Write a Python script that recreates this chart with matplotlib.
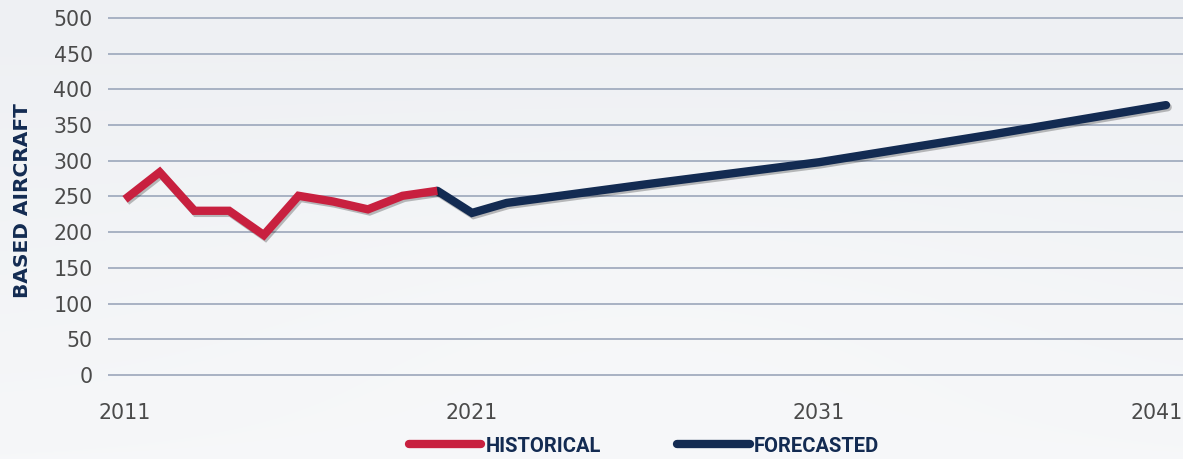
import numpy as np
import matplotlib
matplotlib.use("Agg")
import matplotlib.pyplot as plt
import matplotlib.patheffects as pe
import matplotlib.transforms as mtransforms
from matplotlib.lines import Line2D
from matplotlib import font_manager

# ---- data ----
hist_years = [2011, 2012, 2013, 2014, 2015, 2016, 2017, 2018, 2019, 2020]
hist_values = [246, 284, 230, 230, 196, 251, 243, 232, 251, 258]
fc_years = [2020, 2021, 2022, 2026, 2031, 2036, 2041]
fc_values = [258, 227, 241, 267, 298, 337, 378]
x_ticks = [2011, 2021, 2031, 2041]
y_ticks = [0, 50, 100, 150, 200, 250, 300, 350, 400, 450, 500]
y_label = "BASED AIRCRAFT"
legend_labels = ["HISTORICAL", "FORECASTED"]

RED = "#C8203F"
NAVY = "#132B52"
GRID = "#A8B2C3"
TICK = "#4A4A4A"

W, H = 1183, 459
fig = plt.figure(figsize=(W / 100, H / 100), dpi=100)

# background (soft cloudy gradient)
bg = fig.add_axes([0, 0, 1, 1], zorder=-10)
yy, xx = np.mgrid[0:H, 0:W]
top = np.array([238, 240, 243]) / 255.0
bot = np.array([246, 247, 249]) / 255.0
t = (yy / H)[..., None]
img = top * (1 - t) + bot * t
blob = np.exp(-(((xx - 650) / 420.0) ** 2 + ((yy - 360) / 160.0) ** 2))[..., None]
img = img + (np.array([248, 249, 250]) / 255.0 - img) * 0.6 * blob
bg.imshow(np.clip(img, 0, 1), aspect="auto", extent=[0, 1, 0, 1])
bg.axis("off")

# main axes in pixel coords
x0, x1 = 108, 1183
ytop, ybot = 18, 375
pad = 2.0
pxu = (ybot - ytop) / 500.0
ax = fig.add_axes([x0 / W, (H - ybot - pad * pxu) / H, (x1 - x0) / W,
                   (ybot - ytop + 2 * pad * pxu) / H])
ax.patch.set_alpha(0)
ppy = 34.7
ax.set_xlim(2011 - (125 - x0) / ppy, 2011 + (x1 - 125) / ppy)
ax.set_ylim(-pad, 500 + pad)

for s in ax.spines.values():
    s.set_visible(False)
ax.set_yticks(y_ticks)
ax.set_xticks(x_ticks)
ax.set_xticklabels([str(v) for v in x_ticks])
ax.tick_params(axis="both", length=0, labelsize=14.8, labelcolor=TICK)
ax.tick_params(axis="y", pad=11)
ax.tick_params(axis="x", pad=19)
ax.yaxis.grid(True, color=GRID, linewidth=1.4)
ax.xaxis.grid(False)
ax.set_axisbelow(True)

# shift the last x tick label left so it stays inside the figure
last = ax.get_xticklabels()[-1]
last.set_transform(last.get_transform() +
                   mtransforms.ScaledTranslation(-9 / 100, 0, fig.dpi_scale_trans))

shadow = [pe.SimpleLineShadow(offset=(1.2, -1.5), shadow_color="k", alpha=0.25),
          pe.Normal()]
ax.plot(fc_years, fc_values, color=NAVY, linewidth=6.0, solid_capstyle="round",
        solid_joinstyle="miter", path_effects=shadow, zorder=3)
ax.plot(hist_years, hist_values, color=RED, linewidth=6.0, solid_capstyle="butt",
        solid_joinstyle="miter", path_effects=shadow, zorder=4)

fig.text(23 / W, 1 - 201 / H, y_label, rotation=90, ha="center", va="center",
         fontsize=14.5, fontweight="bold", color=NAVY, family="DejaVu Sans")

# legend
avail = {f.name for f in font_manager.fontManager.ttflist}
lfont = "Liberation Sans Narrow" if "Liberation Sans Narrow" in avail else "Roboto"
handles = [Line2D([], [], color=RED, linewidth=6.0, solid_capstyle="round"),
           Line2D([], [], color=NAVY, linewidth=6.0, solid_capstyle="round")]
leg = fig.legend(handles, legend_labels, ncol=2, frameon=False,
                 loc="center", bbox_to_anchor=(644 / W, 1 - 446 / H),
                 handlelength=3.6, handletextpad=0.2, columnspacing=3.8,
                 prop={"family": lfont, "weight": "bold", "size": 14.5})
for txt in leg.get_texts():
    txt.set_color(NAVY)

fig.savefig("out.png", dpi=100)
